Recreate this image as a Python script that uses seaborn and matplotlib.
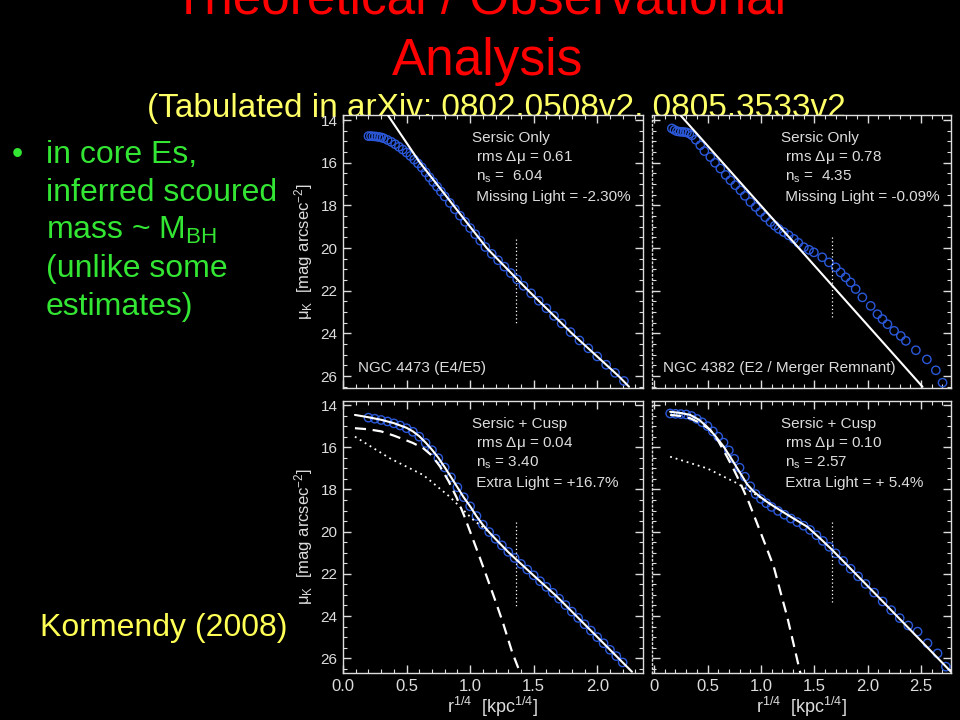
import matplotlib
matplotlib.use("Agg")
import matplotlib.pyplot as plt
from matplotlib.ticker import MultipleLocator
from matplotlib.patches import Rectangle
import seaborn as sns

# ---- NGC 4473, Sersic only (top left)
tl_circ_x = [0.20, 0.22, 0.24, 0.26, 0.28, 0.30, 0.32, 0.35, 0.38, 0.41, 0.44, 0.47, 0.50, 0.53,
             0.56, 0.59, 0.62, 0.65, 0.68, 0.71, 0.74, 0.77, 0.80, 0.84, 0.88, 0.92, 0.96, 1.00,
             1.04, 1.08, 1.12, 1.17, 1.22, 1.27, 1.32, 1.37, 1.42, 1.48, 1.54, 1.60, 1.66, 1.72,
             1.79, 1.86, 1.93, 2.00, 2.07, 2.14, 2.21]
tl_circ_y = [14.75, 14.75, 14.76, 14.77, 14.79, 14.81, 14.85, 14.93, 15.02, 15.13, 15.25, 15.38,
             15.52, 15.68, 15.85, 16.03, 16.22, 16.45, 16.68, 16.90, 17.12, 17.35, 17.58, 17.88,
             18.18, 18.48, 18.77, 19.06, 19.35, 19.65, 19.95, 20.27, 20.57, 20.87, 21.17, 21.47,
             21.77, 22.12, 22.47, 22.82, 23.18, 23.53, 23.94, 24.33, 24.70, 25.08, 25.47, 25.85,
             26.23]
tl_fit_x = [0.352, 0.606, 0.869, 1.131, 1.459, 1.801, 2.168, 2.25]
tl_fit_y = [13.76, 16.0, 18.0, 20.0, 22.0, 24.0, 26.0, 26.5]

# ---- NGC 4382, Sersic only (top right)
tr_circ_x = [0.166, 0.19, 0.213, 0.236, 0.26, 0.284, 0.307, 0.33, 0.354, 0.39, 0.432, 0.47, 0.526,
             0.57, 0.62, 0.67, 0.714, 0.76, 0.808, 0.85, 0.901, 0.95, 0.995, 1.04, 1.089, 1.13,
             1.167, 1.214, 1.26, 1.308, 1.35, 1.402, 1.45, 1.496, 1.574, 1.637, 1.700, 1.746,
             1.793, 1.840, 1.887, 1.950, 2.028, 2.091, 2.138, 2.185, 2.247, 2.310, 2.357, 2.451,
             2.554, 2.638, 2.701]
tr_circ_y = [14.39, 14.46, 14.52, 14.54, 14.55, 14.56, 14.58, 14.63, 14.71, 14.92, 15.18, 15.45,
             15.73, 16.0, 16.27, 16.57, 16.82, 17.05, 17.29, 17.55, 17.84, 18.07, 18.31, 18.55,
             18.78, 18.95, 19.10, 19.25, 19.40, 19.57, 19.75, 19.96, 20.08, 20.20, 20.43, 20.67,
             20.90, 21.14, 21.37, 21.61, 21.92, 22.31, 22.71, 23.10, 23.33, 23.57, 23.88, 24.12,
             24.35, 24.79, 25.22, 25.73, 26.31]
tr_fit_x = [0.244, 1.2, 2.513]
tr_fit_y = [13.76, 19.13, 26.5]

# ---- NGC 4473, Sersic + cusp (bottom left)
bl_circ_x = [0.20, 0.25, 0.30, 0.35, 0.40, 0.45, 0.50, 0.55, 0.60, 0.65, 0.70, 0.75, 0.80, 0.85,
             0.90, 0.95, 1.00, 1.05, 1.10, 1.15, 1.20, 1.25, 1.30, 1.35, 1.40, 1.45, 1.50, 1.55,
             1.60, 1.65, 1.70, 1.75, 1.80, 1.85, 1.90, 1.95, 2.00, 2.05, 2.10, 2.15, 2.20]
bl_circ_y = [14.60, 14.65, 14.71, 14.78, 14.87, 14.97, 15.10, 15.27, 15.50, 15.80, 16.14, 16.52,
             16.96, 17.43, 17.90, 18.37, 18.80, 19.26, 19.67, 20.02, 20.34, 20.65, 20.96, 21.25,
             21.53, 21.80, 22.07, 22.35, 22.62, 22.90, 23.18, 23.48, 23.79, 24.09, 24.39, 24.69,
             25.0, 25.29, 25.60, 25.90, 26.20]
bl_fit_x = [0.094, 0.2, 0.3, 0.4, 0.5, 0.55, 0.6, 0.65, 0.7, 0.75, 0.8, 0.85, 0.9, 0.95, 1.0,
            1.05, 1.1, 1.15, 1.2, 1.25, 1.3, 1.368, 1.5, 1.683, 1.945, 2.273]
bl_fit_y = [14.47, 14.58, 14.70, 14.86, 15.08, 15.25, 15.48, 15.78, 16.12, 16.50, 16.95, 17.42,
            17.90, 18.38, 18.80, 19.27, 19.68, 20.03, 20.35, 20.66, 20.97, 21.35, 22.08, 23.08,
            24.66, 26.64]
bl_cusp_x = [0.094, 0.2, 0.3, 0.4, 0.5, 0.55, 0.632, 0.7, 0.764, 0.83, 0.895, 0.95, 1.0, 1.065,
             1.131, 1.2, 1.26, 1.33, 1.394]
bl_cusp_y = [15.10, 15.15, 15.25, 15.45, 15.68, 15.80, 16.05, 16.40, 16.92, 17.60, 18.40, 19.20,
             20.0, 21.05, 22.14, 23.30, 24.35, 25.70, 26.70]
bl_outer_x = [0.094, 0.37, 0.632, 0.84, 1.026, 1.157]
bl_outer_y = [15.5, 16.53, 17.32, 18.35, 19.45, 20.06]

# ---- NGC 4382, Sersic + cusp (bottom right)
br_circ_x = [0.15, 0.20, 0.25, 0.30, 0.35, 0.40, 0.45, 0.50, 0.55, 0.60, 0.65, 0.70, 0.75, 0.80,
             0.85, 0.90, 0.95, 1.00, 1.05, 1.10, 1.16, 1.22, 1.28, 1.34, 1.40, 1.46, 1.52, 1.58,
             1.64, 1.70, 1.77, 1.84, 1.91, 1.98, 2.06, 2.14, 2.22, 2.30, 2.38, 2.467, 2.56,
             2.654, 2.732]
br_circ_y = [14.40, 14.42, 14.43, 14.45, 14.52, 14.66, 14.82, 15.0, 15.25, 15.50, 15.78, 16.15,
             16.55, 16.97, 17.40, 17.85, 18.22, 18.45, 18.65, 18.83, 19.02, 19.20, 19.38, 19.55,
             19.72, 19.92, 20.17, 20.44, 20.72, 21.03, 21.39, 21.76, 22.12, 22.48, 22.89, 23.31,
             23.72, 24.10, 24.45, 24.74, 25.29, 25.77, 26.40]
br_fit_x = [0.15, 0.25, 0.338, 0.42, 0.495, 0.57, 0.651, 0.73, 0.808, 0.87, 0.932, 1.0, 1.06,
            1.12, 1.28, 1.434, 1.55, 1.668, 2.06, 2.467, 2.795]
br_fit_y = [14.32, 14.38, 14.47, 14.70, 15.03, 15.45, 15.97, 16.60, 17.24, 17.75, 18.10, 18.38,
            18.60, 18.80, 19.30, 19.77, 20.30, 20.87, 22.89, 25.01, 26.72]
br_cusp_x = [0.15, 0.25, 0.338, 0.43, 0.526, 0.6, 0.683, 0.75, 0.808, 0.89, 0.964, 1.04, 1.12,
             1.18, 1.246, 1.30, 1.355, 1.37]
br_cusp_y = [14.47, 14.52, 14.63, 14.85, 15.18, 15.70, 16.45, 17.10, 17.71, 18.65, 19.61, 20.60,
             21.66, 22.80, 24.03, 25.20, 26.40, 26.72]
br_outer_x = [0.150, 0.495, 0.777, 1.058, 1.12]
br_outer_y = [16.45, 17.0, 17.71, 18.58, 18.80]

# vertical dotted markers (x, y_top, y_bottom)
tl_mark = (1.36, 19.57, 23.49)
tr_mark = (1.662, 19.49, 23.33)
bl_mark = (1.36, 19.53, 23.56)
br_mark = (1.662, 19.53, 23.40)

tl_text = ["Sersic Only", " rms $\\Delta\\mu$ = 0.61", " n$_s$ =  6.04", " Missing Light = -2.30%"]
tr_text = ["Sersic Only", " rms $\\Delta\\mu$ = 0.78", " n$_s$ =  4.35", " Missing Light = -0.09%"]
bl_text = ["Sersic + Cusp", " rms $\\Delta\\mu$ = 0.04", " n$_s$ = 3.40", " Extra Light = +16.7%"]
br_text = ["Sersic + Cusp", " rms $\\Delta\\mu$ = 0.10", " n$_s$ = 2.57", " Extra Light = + 5.4%"]

FG = "#dddddd"
BLUE = "#2b58d8"

sns.set_theme(style="dark", rc={
    "figure.facecolor": "black", "axes.facecolor": "black", "axes.edgecolor": FG,
    "text.color": FG, "axes.labelcolor": FG, "xtick.color": FG, "ytick.color": FG,
    "axes.grid": False,
})
plt.rcParams["font.family"] = ["Liberation Sans", "DejaVu Sans"]
plt.rcParams["mathtext.default"] = "regular"

fig = plt.figure(figsize=(9.6, 7.2), dpi=100, facecolor="black")


def add_axes(left, top, right, bottom):
    return fig.add_axes([left / 960, 1 - bottom / 720, (right - left) / 960, (bottom - top) / 720])


def panel(ax, cx, cy, fx, fy, mark, texts, xlim, ylim, cusp=None, outer=None):
    sns.scatterplot(x=cx, y=cy, ax=ax, marker="o", s=36, facecolors="none",
                    edgecolor=BLUE, linewidth=1.0, zorder=2)
    if outer is not None:
        sns.lineplot(x=outer[0], y=outer[1], ax=ax, sort=False, estimator=None,
                     color="white", lw=1.3, linestyle=(0, (1, 2.2)), zorder=3)
    if cusp is not None:
        sns.lineplot(x=cusp[0], y=cusp[1], ax=ax, sort=False, estimator=None,
                     color="white", lw=1.6, linestyle=(0, (5, 3)), zorder=3)
    sns.lineplot(x=fx, y=fy, ax=ax, sort=False, estimator=None, color="white", lw=1.5, zorder=4)
    ax.vlines(mark[0], mark[1], mark[2], colors="white", lw=0.9, linestyles=(0, (1, 2)))
    ax.set_xlim(*xlim)
    ax.set_ylim(*ylim)
    ax.xaxis.set_major_locator(MultipleLocator(0.5))
    ax.xaxis.set_minor_locator(MultipleLocator(0.1))
    ax.yaxis.set_major_locator(MultipleLocator(2))
    ax.yaxis.set_minor_locator(MultipleLocator(0.5))
    ax.tick_params(which="both", direction="in", top=True, right=True, bottom=True, left=True,
                   colors=FG, labelsize=11, pad=4)
    ax.tick_params(which="major", length=6, width=1)
    ax.tick_params(which="minor", length=3, width=0.8)
    for sp in ax.spines.values():
        sp.set_color(FG)
        sp.set_linewidth(1)
    ys = [0.915, 0.843, 0.772, 0.700]
    for i, t in enumerate(texts):
        ax.text(0.43, ys[i], t, transform=ax.transAxes, fontsize=11,
                color=FG, va="center", ha="left")
    ax.set_xlabel("")
    ax.set_ylabel("")


ylabel = "$\\mu_K$  [mag arcsec$^{-2}$]"
xlabel = "r$^{1/4}$  [kpc$^{1/4}$]"

ax_tl = add_axes(343, 115, 643, 388)
panel(ax_tl, tl_circ_x, tl_circ_y, tl_fit_x, tl_fit_y, tl_mark, tl_text, (0, 2.36), (26.56, 13.76))
ax_tl.set_xticklabels([])
ax_tl.set_ylabel(ylabel, fontsize=12, labelpad=4)
ax_tl.text(0.05, 0.072, "NGC 4473 (E4/E5)", transform=ax_tl.transAxes, fontsize=11, va="center")

ax_tr = add_axes(652, 115, 951, 388)
panel(ax_tr, tr_circ_x, tr_circ_y, tr_fit_x, tr_fit_y, tr_mark, tr_text, (-0.02, 2.78), (26.56, 13.76))
ax_tr.set_xticklabels([])
ax_tr.set_yticklabels([])
ax_tr.spines["left"].set_linestyle((0, (1, 2)))
ax_tr.text(0.036, 0.072, "NGC 4382 (E2 / Merger Remnant)", transform=ax_tr.transAxes,
           fontsize=11, va="center")

ax_bl = add_axes(343, 401, 643, 673)
panel(ax_bl, bl_circ_x, bl_circ_y, bl_fit_x, bl_fit_y, bl_mark, bl_text, (0, 2.36), (26.7, 13.81),
      cusp=(bl_cusp_x, bl_cusp_y), outer=(bl_outer_x, bl_outer_y))
ax_bl.set_ylabel(ylabel, fontsize=12, labelpad=4)
ax_bl.set_xlabel(xlabel, fontsize=13, labelpad=1)
ax_bl.tick_params(axis="x", labelsize=12)

ax_br = add_axes(652, 401, 951, 673)
panel(ax_br, br_circ_x, br_circ_y, br_fit_x, br_fit_y, br_mark, br_text, (-0.02, 2.78), (26.7, 13.81),
      cusp=(br_cusp_x, br_cusp_y), outer=(br_outer_x, br_outer_y))
ax_br.set_yticklabels([])
ax_br.spines["left"].set_linestyle((0, (1, 2)))
ax_br.set_xlabel(xlabel, fontsize=13, labelpad=1)
ax_br.tick_params(axis="x", labelsize=12)
ax_br.set_xticks([0, 0.5, 1.0, 1.5, 2.0, 2.5])
ax_br.set_xticklabels(["0", "0.5", "1.0", "1.5", "2.0", "2.5"])

# slide text, drawn beneath the figure panel
fig.text(0.5, 1 - 14 / 720, "Theoretical / Observational", color="#ff0000", fontsize=37,
         ha="center", va="baseline", zorder=-2)
fig.text(0.508, 1 - 75 / 720, "Analysis", color="#ff0000", fontsize=37,
         ha="center", va="baseline", zorder=-2)
fig.text(147 / 960, 1 - 117 / 720, "(Tabulated in arXiv: 0802.0508v2, 0805.3533v2",
         color="#ffff66", fontsize=24, ha="left", va="baseline", zorder=-2)
fig.patches.append(Rectangle((288 / 960, 0), 1, 603 / 720, transform=fig.transFigure,
                             facecolor="black", edgecolor="none", zorder=-1))

GREEN = "#33e633"
fig.text(12 / 960, 1 - 163 / 720, "\u2022", color=GREEN, fontsize=23, va="baseline")
lines = ["in core Es,", "inferred scoured", "mass ~ M$_{BH}$", "(unlike some", "estimates)"]
for i, s in enumerate(lines):
    fig.text(46 / 960, 1 - (163 + 38 * i) / 720, s, color=GREEN, fontsize=23, va="baseline")
fig.text(40 / 960, 1 - 636 / 720, "Kormendy (2008)", color="#ffff55", fontsize=23, va="baseline")

fig.savefig("out.png", dpi=100, facecolor="black")
